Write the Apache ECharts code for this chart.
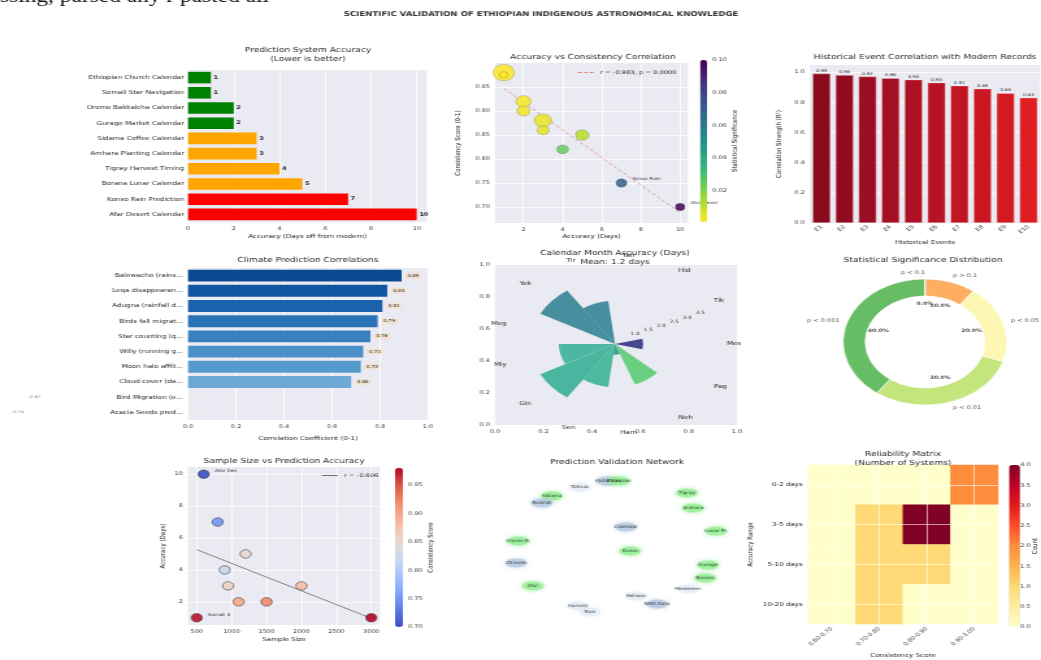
<!DOCTYPE html>
<html>
<head>
<meta charset="utf-8">
<title>Scientific Validation of Ethiopian Indigenous Astronomical Knowledge</title>
<script src="https://cdn.jsdelivr.net/npm/echarts@6.0.0/dist/echarts.min.js"></script>
<style>
  html, body { margin: 0; padding: 0; background: #ffffff; overflow: hidden; }
  #stage { position: absolute; left: 0; top: 0; width: 1041px; height: 660px; overflow: hidden; }
  /* the figure is laid out on an 801px wide canvas and widened to the page */
  #chart { position: absolute; left: 0; top: 0; width: 801px; height: 660px;
           transform: scaleX(1.29963); transform-origin: 0 0; }
</style>
</head>
<body>
<div id="stage"><div id="chart"></div></div>
<script>
// ---------------- data ----------------
const systemNames = [
  'Ethiopian Church Calendar', 'Somali Star Navigation', 'Oromo Bakkalcha Calendar',
  'Gurage Market Calendar', 'Sidama Coffee Calendar', 'Amhara Planting Calendar',
  'Tigray Harvest Timing', 'Borana Lunar Calendar', 'Konso Rain Prediction', 'Afar Desert Calendar'
];
const accuracyDays   = [1, 1, 2, 2, 3, 3, 4, 5, 7, 10];
const consistency    = [0.98, 0.975, 0.92, 0.90, 0.88, 0.86, 0.82, 0.85, 0.75, 0.70];
const significance   = [0.001, 0.001, 0.002, 0.003, 0.004, 0.005, 0.025, 0.012, 0.07, 0.10];
const sampleSize     = [3000, 500, 1500, 1100, 2000, 950, 900, 1200, 800, 600];

const trend1X = [1, 10];
const trend1Y = [0.947, 0.688];
const trend1Label = 'r = -0.983, p = 0.0000';

const eventNames  = ['E1', 'E2', 'E3', 'E4', 'E5', 'E6', 'E7', 'E8', 'E9', 'E10'];
const eventCorr   = [0.99, 0.98, 0.97, 0.96, 0.95, 0.93, 0.91, 0.89, 0.86, 0.83];

const climateIndicators = [
  'Balewacho (rains...', 'Leqa disappearan...', 'Adugna (rainfall d...', 'Birds fall migrat...',
  'Star counting (q...', 'Willy (running g...', 'Moon halo affili...', 'Cloud cover (da...',
  'Bird Migration (e...', 'Acacia Seeds pred...'
];
const climateCorr = [0.89, 0.83, 0.81, 0.79, 0.76, 0.73, 0.72, 0.68, -0.67, -0.74];

const months    = ['Mes', 'Tik', 'Hid', 'Tah', 'Tir', 'Yek', 'Meg', 'Miy', 'Gin', 'Sen', 'Ham', 'Neh', 'Pag'];
const monthDays = [1, 0, 0, 0, 2, 3, 0, 2, 3, 2, 0.5, 2, 0];
const radialTicks = [1.0, 1.5, 2.0, 2.5, 3.0, 3.5];

const sigLevels = ['p > 0.1', 'p < 0.05', 'p < 0.01', 'p < 0.001', 'p < 0.1'];
const sigShares = [10, 20, 30, 40, 0];

const trend2X = [500, 3000];
const trend2Y = [5.27, 0.97];
const trend2Label = 'r = -0.606';

const nodeNames = ['Tahsas', 'Historical', 'Ethiopian', 'Sidama', 'Rainfall', 'Tigray', 'Amhara',
  'Lunar Pr.', 'Calendar', 'Konso', 'Oromo B.', 'Climate', 'Afar', 'Gurage', 'Borana',
  'Meskerem', 'Nehase', 'NMA Data', 'Harvest', 'Rain'];
const nodeX = [35.7, 45.4, 49.6, 25.7, 22.1, 73.9, 76.1, 84.3, 52.1, 53.6, 13.6, 12.9, 18.9, 81.4, 80.4, 74.3, 55.7, 63.2, 35.0, 39.3];
const nodeY = [89.0, 92.9, 92.9, 83.2, 78.7, 85.2, 75.5, 60.6, 63.2, 47.7, 54.2, 40.0, 25.2, 38.7, 30.3, 23.2, 18.7, 13.5, 12.3, 8.4];
const nodeKind = ['event', 'source', 'system', 'system', 'source', 'system', 'system', 'system', 'source', 'system',
  'system', 'source', 'system', 'system', 'system', 'event', 'event', 'source', 'event', 'event'];

const accuracyRanges = ['0-2 days', '3-5 days', '5-10 days', '10-20 days'];
const scoreRanges    = ['0.60-0.70', '0.70-0.80', '0.80-0.90', '0.90-1.00'];
const reliabilityCounts = [
  [0, 0, 0, 2],
  [0, 1, 4, 0],
  [0, 1, 1, 0],
  [0, 1, 0, 0]
];

// tick values
const ticksDays10   = [0, 2, 4, 6, 8, 10];
const ticksDays2_10 = [2, 4, 6, 8, 10];
const ticksCons     = [0.70, 0.75, 0.80, 0.85, 0.90, 0.95];
const ticksSig      = [0.02, 0.04, 0.06, 0.08, 0.10];
const ticksUnit     = [0, 0.2, 0.4, 0.6, 0.8, 1.0];
const ticksSample   = [500, 1000, 1500, 2000, 2500, 3000];
const ticksCount    = [0, 0.5, 1, 1.5, 2, 2.5, 3, 3.5, 4];

// ---------------- styling helpers ----------------
const FONT = 'DejaVu Sans';
const INK = '#262626';
const TICK = '#3a3a3a';
const PANEL_BG = '#EAEAF2';
const SX = 1041 / 801;
const ix = px => px / SX;

const viridisR = ['#fde725', '#b5de2b', '#6ece58', '#35b779', '#1f9e89', '#26828e', '#31688e', '#3e4989', '#482878', '#440154'];
const coolwarm = ['#3b4cc0', '#5977e3', '#7b9ff9', '#9ebeff', '#c0d4f5', '#dddcdc', '#f2cbb7', '#f7ac8e', '#ee8468', '#d65244', '#b40426'];
const ylOrRd = ['#ffffcc', '#ffeda0', '#fed976', '#feb24c', '#fd8d3c', '#fc4e2a', '#e31a1c', '#bd0026', '#800026'];
const redsDark = ['#8a0b20', '#920c21', '#9b0d22', '#a40f23', '#ae1124', '#b81325', '#c11524', '#ca1723', '#d31a22', '#dc1e20'];
const bluesDark = ['#0a4a90', '#0f55a0', '#1a62ab', '#2a72b6', '#3a80bf', '#4a8fc6', '#579acd', '#6ea9d6', '#84b7dc', '#9cc5e2'];
const monthPalette = ['#3d3f8a', '#41468a', '#3a5a8c', '#33708e', '#3d8a9c', '#3d8a9a', '#37a08f', '#43b59c', '#41b39a', '#45b69a', '#3a9a8e', '#62cf7a', '#8fd66a'];
const sigPalette = ['#fdae61', '#fef7b3', '#c4e47c', '#66bd63', '#fee08b'];
const kindStyle = {
  system: { color: 'rgba(144,238,144,0.85)', shadowColor: 'rgba(120,230,120,0.9)' },
  source: { color: 'rgba(176,196,222,0.85)', shadowColor: 'rgba(176,196,222,0.9)' },
  event:  { color: 'rgba(214,226,240,0.55)', shadowColor: 'rgba(214,226,240,0.6)' }
};

function merge(a, b) {
  const out = Object.assign({}, a);
  for (const k in b) {
    const v = b[k];
    if (v && typeof v === 'object' && !Array.isArray(v) && out[k] && typeof out[k] === 'object' && !Array.isArray(out[k])) {
      out[k] = merge(out[k], v);
    } else {
      out[k] = v;
    }
  }
  return out;
}
function rect(l, t, r, b, bg) {
  const g = { left: ix(l), top: t, width: ix(r) - ix(l), height: b - t, containLabel: false };
  if (bg) { g.show = true; g.backgroundColor = bg; g.borderWidth = 0; }
  return g;
}
const baseAxis = {
  axisLine: { show: false },
  axisTick: { show: false },
  axisLabel: { fontFamily: FONT, fontSize: 5, color: TICK, margin: 4 },
  splitLine: { show: true, lineStyle: { color: '#ffffff', width: 0.8 } },
  nameLocation: 'middle',
  nameMoveOverlap: false,
  nameTextStyle: { fontFamily: FONT, fontSize: 5.5, color: INK }
};
const fixed = n => v => Number(v).toFixed(n);
function valueAxis(gridIndex, min, max, ticks, digits, extra) {
  return merge(merge(baseAxis, {
    type: 'value', gridIndex: gridIndex, min: min, max: max,
    axisTick: { customValues: ticks },
    axisLabel: { customValues: ticks, formatter: fixed(digits) }
  }), extra || {});
}
function categoryAxis(gridIndex, data, extra) {
  return merge(merge(baseAxis, { type: 'category', gridIndex: gridIndex, data: data, splitLine: { show: false } }), extra || {});
}
function hiddenAxis(gridIndex, min, max) {
  return { type: 'value', gridIndex: gridIndex, min: min, max: max, show: false };
}
function heading(text, cx, top, extra) {
  return {
    text: text, left: ix(cx), top: top, textAlign: 'center', padding: 0,
    textStyle: merge({ fontFamily: FONT, fontSize: 7, color: INK, fontWeight: 'normal', lineHeight: 8.5 }, extra || {})
  };
}

const monthMean = (monthDays.reduce((a, b) => a + b, 0) / monthDays.length).toFixed(1);

// ---------------- layout ----------------
const grids = [
  rect(188, 70, 427, 222, PANEL_BG),   // 0 system accuracy
  rect(495, 63, 688, 223, PANEL_BG),   // 1 accuracy vs consistency
  rect(700, 60, 707, 222),             // 2 significance colour bar
  rect(810, 65, 1040, 223, PANEL_BG),  // 3 historical events
  rect(188, 268, 428, 420, PANEL_BG),  // 4 climate correlations
  rect(495, 265, 737, 425, PANEL_BG),  // 5 frame behind the month rose
  rect(188, 467, 380, 625, PANEL_BG),  // 6 sample size
  rect(395, 468, 403, 627),            // 7 consistency colour bar
  rect(480, 470, 760, 625),            // 8 network
  rect(808, 465, 998, 625),            // 9 reliability matrix
  rect(1009, 465, 1020, 627)           // 10 count colour bar
];

const xAxes = [
  valueAxis(0, 0, 10.45, ticksDays10, 0, { name: 'Accuracy (Days off from modern)', nameGap: 12 }),
  valueAxis(1, 0.55, 10.4, ticksDays2_10, 0, { name: 'Accuracy (Days)', nameGap: 11 }),
  hiddenAxis(2, 0, 1),
  categoryAxis(3, eventNames, { name: 'Historical Events', nameGap: 17, axisLabel: { rotate: 45, margin: 3 } }),
  valueAxis(4, 0, 1, ticksUnit, 1, { name: 'Correlation Coefficient (0-1)', nameGap: 16 }),
  valueAxis(5, 0, 1, ticksUnit, 1, { splitLine: { show: false } }),
  valueAxis(6, 375, 3125, ticksSample, 0, { name: 'Sample Size', nameGap: 12 }),
  hiddenAxis(7, 0, 1),
  hiddenAxis(8, 0, 100),
  categoryAxis(9, scoreRanges, { name: 'Consistency Score', nameGap: 29, axisLabel: { rotate: 45, margin: 4 } }),
  hiddenAxis(10, 0, 1),
  { type: 'value', gridIndex: 9, min: -0.5, max: 3.5, position: 'top', z: 10,
    axisLine: { show: false }, axisLabel: { show: false },
    axisTick: { show: false, customValues: [0, 1, 2, 3] },
    splitLine: { show: true, lineStyle: { color: 'rgba(255,255,255,0.75)', width: 0.8 } } }
];

const yAxes = [
  categoryAxis(0, systemNames, { inverse: true, axisLabel: { fontSize: 5.5, color: INK, margin: 3 } }),
  valueAxis(1, 0.6667, 1.0, ticksCons, 2, { name: 'Consistency Score (0-1)', nameGap: 25 }),
  valueAxis(2, 0.001, 0.1, ticksSig, 2, { position: 'right', splitLine: { show: false }, name: 'Statistical Significance', nameGap: 19 }),
  valueAxis(3, 0, 1.047, ticksUnit, 1, { name: 'Correlation Strength (R\u00b2)', nameGap: 21 }),
  categoryAxis(4, climateIndicators, { inverse: true, axisLabel: { fontSize: 5.5, color: INK, margin: 4 } }),
  valueAxis(5, 0, 1, ticksUnit, 1, { splitLine: { show: false } }),
  valueAxis(6, 0.55, 10.45, ticksDays2_10, 0, { name: 'Accuracy (Days)', nameGap: 16 }),
  valueAxis(7, 0.70, 0.98, ticksCons, 2, { position: 'right', splitLine: { show: false }, name: 'Consistency Score', nameGap: 18 }),
  hiddenAxis(8, 0, 100),
  categoryAxis(9, accuracyRanges, { inverse: true, name: 'Accuracy Range', nameGap: 41, axisLabel: { margin: 4, fontSize: 5.5, color: INK } }),
  valueAxis(10, 0, 4, ticksCount, 1, { position: 'right', splitLine: { show: false }, name: 'Count', nameGap: 13 }),
  { type: 'value', gridIndex: 9, min: -0.5, max: 3.5, position: 'right', z: 10,
    axisLine: { show: false }, axisLabel: { show: false },
    axisTick: { show: false, customValues: [0, 1, 2, 3] },
    splitLine: { show: true, lineStyle: { color: 'rgba(255,255,255,0.75)', width: 0.8 } } }
];

// ---------------- series ----------------
const series = [];

// system accuracy bars
series.push({
  type: 'bar', xAxisIndex: 0, yAxisIndex: 0, barWidth: '76%',
  data: accuracyDays.map(v => ({ value: v, itemStyle: { color: v <= 2 ? '#008000' : (v <= 5 ? '#FFA500' : '#FF0000') } })),
  label: { show: true, position: 'right', distance: 2, fontFamily: FONT, fontSize: 5, fontWeight: 'bold', color: INK }
});

// accuracy vs consistency scatter
const annotate1 = ['Konso Rain Prediction', 'Afar Desert Calendar'];
const scatter1Index = series.length;
series.push({
  type: 'scatter', xAxisIndex: 1, yAxisIndex: 1, z: 3,
  data: systemNames.map((n, i) => ({
    name: n,
    value: [accuracyDays[i], consistency[i], significance[i], sampleSize[i]],
    label: { show: annotate1.indexOf(n) >= 0 }
  })),
  symbolSize: v => Math.sqrt(v[3]) * 0.3,
  itemStyle: { opacity: 0.85, borderColor: 'rgba(60,60,60,0.5)', borderWidth: 0.5 },
  label: { position: 'right', offset: [-1, -4], formatter: p => p.name.slice(0, 10), fontFamily: FONT, fontSize: 4, color: INK }
});
series.push({
  type: 'line', name: trend1Label, xAxisIndex: 1, yAxisIndex: 1, symbol: 'none', z: 2,
  data: trend1X.map((x, i) => [x, trend1Y[i]]),
  lineStyle: { color: '#e8807a', width: 0.8, type: [3, 2] },
  itemStyle: { color: '#e8807a' }
});

// historical events
series.push({
  type: 'bar', xAxisIndex: 3, yAxisIndex: 3, barWidth: '78%',
  data: eventCorr.map((v, i) => ({ value: v, itemStyle: { color: redsDark[i] } })),
  itemStyle: { borderColor: 'rgba(255,220,220,0.7)', borderWidth: 0.5 },
  label: { show: true, position: 'top', distance: 1, formatter: p => p.value.toFixed(2), fontFamily: FONT, fontSize: 3.8, color: INK }
});

// climate correlations
series.push({
  type: 'bar', xAxisIndex: 4, yAxisIndex: 4, barWidth: '78%',
  data: climateCorr.map((v, i) => ({ value: v, itemStyle: { color: bluesDark[i] } })),
  label: {
    show: true, position: 'right', distance: 3, formatter: p => (p.value > 0 ? p.value.toFixed(2) : ''),
    fontFamily: FONT, fontSize: 4, color: INK, backgroundColor: 'rgba(255,214,170,0.45)', padding: [1, 1.5], borderRadius: 1.5
  }
});
series.push({
  type: 'scatter', xAxisIndex: 4, yAxisIndex: 4, symbolSize: 0, clip: false, silent: true,
  data: climateCorr.map((v, i) => [v, climateIndicators[i]]).filter(d => d[0] < 0),
  label: { show: true, position: 'right', distance: 1, formatter: p => p.value[0].toFixed(2), fontFamily: FONT, fontSize: 3.6, color: '#555' }
});

// month rose
series.push({
  type: 'bar', coordinateSystem: 'polar', polarIndex: 0, barCategoryGap: '0%',
  data: monthDays.map((v, i) => ({ value: v, itemStyle: { color: monthPalette[i] } })),
  itemStyle: { opacity: 0.95 }
});

// sample size vs accuracy
const annotate2 = ['Afar Desert Calendar', 'Somali Star Navigation'];
const scatter2Index = series.length;
series.push({
  type: 'scatter', xAxisIndex: 6, yAxisIndex: 6, z: 3, symbolSize: 8.5,
  data: systemNames.map((n, i) => ({
    name: n,
    value: [sampleSize[i], accuracyDays[i], consistency[i]],
    label: { show: annotate2.indexOf(n) >= 0 }
  })),
  itemStyle: { borderColor: '#333', borderWidth: 0.6, opacity: 0.9 },
  label: { position: 'right', offset: [-1, -3], formatter: p => p.name.slice(0, 8), fontFamily: FONT, fontSize: 4, color: INK }
});
series.push({
  type: 'line', name: trend2Label, xAxisIndex: 6, yAxisIndex: 6, symbol: 'none', z: 2,
  data: trend2X.map((x, i) => [x, trend2Y[i]]),
  lineStyle: { color: '#6b6b6b', width: 0.8 },
  itemStyle: { color: '#6b6b6b' }
});

// validation network
series.push({
  type: 'scatter', xAxisIndex: 8, yAxisIndex: 8,
  symbol: 'path://M0 5A10 5 0 1 0 20 5A10 5 0 1 0 0 5Z', symbolSize: [17, 9],
  data: nodeNames.map((n, i) => ({
    name: n, value: [nodeX[i], nodeY[i]],
    itemStyle: { color: kindStyle[nodeKind[i]].color, shadowColor: kindStyle[nodeKind[i]].shadowColor, shadowBlur: 4 }
  })),
  label: { show: true, position: 'inside', formatter: p => p.name, fontFamily: FONT, fontSize: 4, color: '#161616' }
});

// reliability matrix
const heatIndex = series.length;
const heatData = [];
reliabilityCounts.forEach((row, r) => row.forEach((v, c) => heatData.push([c, r, v])));
series.push({ type: 'heatmap', xAxisIndex: 9, yAxisIndex: 9, data: heatData, itemStyle: { borderWidth: 0 } });

// significance donut
const pieCenter = [ix(925), 342];
const pieRadius = 63;
const labelReach = 1.2;   // the annotation frame extends 20% beyond the donut
series.push({
  type: 'pie', center: pieCenter, radius: [46, pieRadius], startAngle: 90, clockwise: true,
  avoidLabelOverlap: false, silent: true,
  data: sigLevels.map((n, i) => ({ name: n, value: sigShares[i], itemStyle: { color: sigPalette[i] } })),
  itemStyle: { borderColor: '#ffffff', borderWidth: 0.6 },
  label: { show: false }, labelLine: { show: false }
});
// donut annotations placed on a polar frame that shares the donut's centre
const shareTotal = sigShares.reduce((a, b) => a + b, 0);
let shareRun = 0;
const shareMids = sigShares.map(v => { const m = shareRun + v / 2; shareRun += v; return m; });
series.push({
  type: 'scatter', coordinateSystem: 'polar', polarIndex: 2, symbolSize: 0, silent: true, z: 4,
  data: shareMids.map((m, i) => ({ value: [0.6, m], name: sigLevels[i] })),
  label: { show: true, position: 'inside', formatter: p => (sigShares[p.dataIndex] / shareTotal * 100).toFixed(1) + '%',
    fontFamily: FONT, fontSize: 4.6, fontWeight: 'bold', color: '#222' }
});
series.push({
  type: 'scatter', coordinateSystem: 'polar', polarIndex: 2, symbolSize: 0, silent: true, z: 4,
  data: shareMids.map((m, i) => {
    const side = Math.cos((90 - m / shareTotal * 360) * Math.PI / 180);
    return { value: [1.1, m], name: sigLevels[i], label: { align: side > 1e-6 ? 'left' : 'right' } };
  }),
  label: { show: true, position: 'inside', formatter: '{b}', fontFamily: FONT, fontSize: 5, color: INK }
});

// ---------------- option ----------------
const legendText = { fontFamily: FONT, fontSize: 5.2, color: INK };
const option = {
  animation: false,
  backgroundColor: '#ffffff',
  textStyle: { fontFamily: FONT },
  title: [
    { text: 'SCIENTIFIC VALIDATION OF ETHIOPIAN INDIGENOUS ASTRONOMICAL KNOWLEDGE', left: ix(541), top: 11, textAlign: 'center', padding: 0,
      textStyle: { fontFamily: FONT, fontSize: 6.6, fontWeight: 'bold', color: '#333' } },
    heading('Prediction System Accuracy\n(Lower is better)', 308, 46),
    heading('Accuracy vs Consistency Correlation', 593, 53),
    heading('Historical Event Correlation with Modern Records', 925, 53),
    heading('Climate Prediction Correlations', 308, 256),
    heading('Calendar Month Accuracy (Days)\nMean: ' + monthMean + ' days', 615, 249),
    heading('Statistical Significance Distribution', 923, 256),
    heading('Sample Size vs Prediction Accuracy', 284, 457),
    heading('Prediction Validation Network', 617, 458),
    heading('Reliability Matrix\n(Number of Systems)', 903, 450)
  ],
  legend: [
    { data: [{ name: trend1Label, icon: 'path://M0 0H3V1H0Z M4.5 0H7.5V1H4.5Z M9 0H12V1H9Z' }],
      left: ix(578), top: 70, itemWidth: 12, itemHeight: 1, padding: 0, selectedMode: false, textStyle: legendText },
    { data: [{ name: trend2Label, icon: 'path://M0 0H12V1H0Z' }],
      left: ix(322), top: 473, itemWidth: 12, itemHeight: 1, padding: 0, selectedMode: false, textStyle: legendText }
  ],
  grid: grids,
  xAxis: xAxes,
  yAxis: yAxes,
  polar: [
    { center: [ix(615), 344], radius: 80 },
    { center: [ix(615), 344], radius: 80 },
    { center: pieCenter, radius: pieRadius * labelReach }
  ],
  angleAxis: [
    { polarIndex: 0, type: 'category', data: months, startAngle: -360 / 26, clockwise: false,
      axisLine: { show: false }, axisTick: { show: false }, splitLine: { show: false },
      axisLabel: { fontFamily: FONT, fontSize: 5.5, color: INK, margin: 6 } },
    { polarIndex: 1, type: 'value', min: 0, max: 360, startAngle: 22.5, show: false },
    { polarIndex: 2, type: 'value', min: 0, max: shareTotal, startAngle: 90, clockwise: true, show: false }
  ],
  radiusAxis: [
    { polarIndex: 0, min: 0, max: 3.7, show: false },
    { polarIndex: 1, min: 0, max: 3.7, axisLine: { show: false }, axisTick: { show: false }, splitLine: { show: false },
      axisLabel: { customValues: radialTicks, formatter: fixed(1), fontFamily: FONT, fontSize: 4.5, color: TICK, margin: 2 } },
    { polarIndex: 2, min: 0, max: labelReach, show: false }
  ],
  visualMap: [
    { type: 'continuous', seriesIndex: scatter1Index, dimension: 2, min: 0.001, max: 0.1, inRange: { color: viridisR },
      show: true, calculable: false, hoverLink: false, left: ix(700), top: 60, itemWidth: ix(707) - ix(700), itemHeight: 162, padding: 0 },
    { type: 'continuous', seriesIndex: scatter2Index, dimension: 2, min: 0.70, max: 0.98, inRange: { color: coolwarm },
      show: true, calculable: false, hoverLink: false, left: ix(395), top: 468, itemWidth: ix(403) - ix(395), itemHeight: 159, padding: 0 },
    { type: 'continuous', seriesIndex: heatIndex, dimension: 2, min: 0, max: 4, inRange: { color: ylOrRd },
      show: true, calculable: false, hoverLink: false, left: ix(1009), top: 465, itemWidth: ix(1020) - ix(1009), itemHeight: 162, padding: 0 }
  ],
  graphic: [
    { type: 'text', left: 0, top: -12, silent: true,
      style: { text: 'ssing, parsed any r pasted all', font: '18px "Liberation Serif"', fill: '#111' } }
  ],
  series: series
};

const chart = echarts.init(document.getElementById('chart'), null, { renderer: 'canvas', width: 801, height: 660 });
chart.setOption(option);
</script>
</body>
</html>
